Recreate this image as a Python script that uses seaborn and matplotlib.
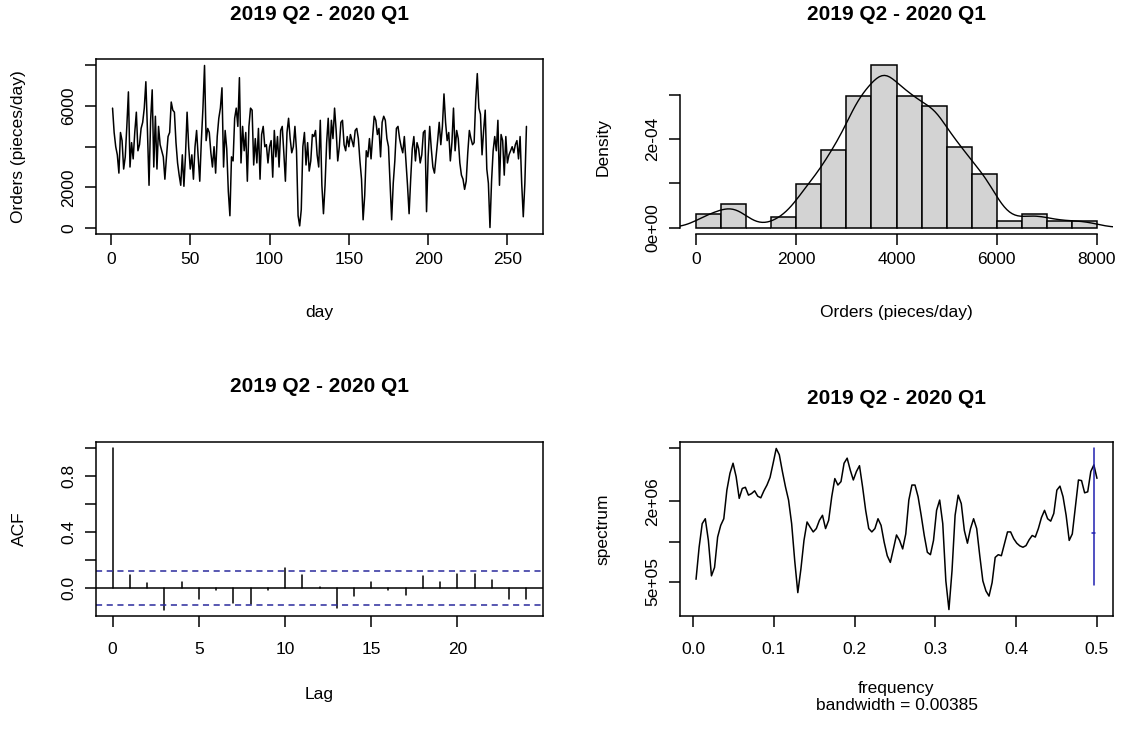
import numpy as np
import pandas as pd
import matplotlib
matplotlib.use("Agg")
import matplotlib.pyplot as plt
from matplotlib.ticker import NullLocator
import seaborn as sns

# ---------------- data ----------------
title = "2019 Q2 - 2020 Q1"

orders = [
    5900, 4700, 4000, 3600, 2700, 4700, 4300, 2900, 3500, 5000,
    6700, 3000, 4200, 3400, 4700, 5700, 3800, 4100, 4900, 5200,
    5900, 7200, 4800, 2100, 5300, 6800, 3000, 5500, 2900, 5000,
    4100, 3800, 3500, 2400, 3500, 4500, 4700, 6200, 5800, 5700,
    4200, 3200, 2600, 2100, 3600, 2050, 3600, 5700, 4000, 2900,
    3600, 2400, 4000, 4800, 3500, 2300, 4300, 5900, 8000, 4300,
    4900, 4700, 3700, 3000, 4000, 2700, 4500, 5400, 5900, 6900,
    3000, 4800, 3900, 1800, 600, 3500, 3300, 5400, 5900, 5000,
    7400, 3200, 5000, 3800, 4700, 2300, 5000, 5900, 5800, 3100,
    4400, 3200, 4900, 2400, 4600, 5000, 4000, 4100, 3200, 4000,
    4300, 2500, 4800, 3500, 4500, 3000, 4800, 5000, 3700, 2300,
    4700, 5400, 4400, 3700, 4000, 5000, 3800, 600, 100, 900,
    4000, 4700, 3100, 4200, 2800, 3300, 4600, 4500, 4800, 3600,
    3000, 5300, 2100, 700, 2100, 4200, 5400, 3400, 5300, 4400,
    5900, 4800, 3300, 4000, 5200, 5300, 4100, 3800, 4500, 4000,
    4600, 4300, 4000, 4800, 4900, 4400, 3300, 2400, 400, 1600,
    3800, 3500, 4400, 3400, 4500, 5500, 5300, 4600, 4900, 3500,
    5200, 5500, 5300, 4400, 4000, 2200, 400, 2200, 3300, 4900,
    5000, 4400, 4000, 3700, 4500, 3300, 2100, 700, 2400, 3900,
    4500, 3300, 4200, 3900, 3200, 3600, 4700, 4800, 800, 3500,
    5000, 3900, 3000, 2700, 3500, 4300, 5200, 4100, 5000, 6600,
    5200, 4300, 4700, 3300, 4200, 5900, 3800, 4800, 4400, 3200,
    2600, 2400, 1900, 2300, 3700, 4800, 4400, 4100, 4200, 6300,
    7600, 5900, 5600, 3600, 4800, 5800, 2900, 2200, 20, 2300,
    3800, 4500, 3800, 5300, 2100, 4600, 4300, 2600, 4500, 3200,
    3600, 3800, 4000, 3700, 4100, 4300, 3400, 4500, 2200, 550,
    2200, 5000,
]
days = list(range(1, len(orders) + 1))

hist_breaks = list(range(0, 8001, 500))
hist_counts = [4, 7, 0, 3, 13, 23, 39, 48, 39, 36, 24, 16, 2, 4, 2, 2]

acf_lags = list(range(0, 25))
acf_vals = [1.0, 0.095, 0.033, -0.155, 0.045, -0.079, -0.014, -0.107, -0.117,
            -0.017, 0.146, 0.095, 0.005, -0.146, -0.057, 0.045, -0.014, -0.048,
            0.088, 0.045, 0.100, 0.100, 0.055, -0.079, -0.079]
acf_ci = 0.121

spec_freq = [k / 262 for k in range(1, 132)]
spec_vals = [
    5.23e5, 9.07e5, 1.36e6, 1.48e6, 1.02e6, 5.55e5, 6.41e5, 1.08e6, 1.32e6, 1.48e6,
    2.42e6, 3.23e6, 3.84e6, 3.05e6, 2.10e6, 2.49e6, 2.54e6, 2.22e6, 2.28e6, 2.39e6,
    2.18e6, 2.12e6, 2.39e6, 2.64e6, 3.01e6, 3.84e6, 4.95e6, 4.44e6, 3.33e6, 2.56e6,
    2.04e6, 1.36e6, 7.19e5, 4.16e5, 6.23e5, 1.02e6, 1.40e6, 1.28e6, 1.18e6, 1.25e6,
    1.44e6, 1.57e6, 1.25e6, 1.44e6, 2.16e6, 2.95e6, 2.64e6, 2.80e6, 3.84e6, 4.19e6,
    3.42e6, 2.88e6, 3.33e6, 3.68e6, 2.56e6, 1.71e6, 1.25e6, 1.18e6, 1.25e6, 1.48e6,
    1.32e6, 9.89e5, 7.84e5, 6.99e5, 8.81e5, 1.12e6, 1.02e6, 8.81e5, 1.14e6, 2.04e6,
    2.64e6, 2.64e6, 2.16e6, 1.57e6, 1.11e6, 8.32e5, 7.98e5, 1.02e6, 1.71e6, 2.04e6,
    1.36e6, 5.09e5, 3.11e5, 6.05e5, 1.57e6, 2.22e6, 1.92e6, 1.21e6, 9.72e5, 1.25e6,
    1.48e6, 1.25e6, 7.84e5, 5.09e5, 4.28e5, 3.92e5, 4.94e5, 7.62e5, 7.98e5, 7.84e5,
    9.60e5, 1.18e6, 1.18e6, 1.05e6, 9.72e5, 9.28e5, 9.07e5, 9.33e5, 1.03e6, 1.11e6,
    1.08e6, 1.25e6, 1.51e6, 1.71e6, 1.48e6, 1.42e6, 1.62e6, 2.42e6, 2.59e6, 2.16e6,
    1.57e6, 1.02e6, 1.14e6, 1.81e6, 2.88e6, 2.85e6, 2.31e6, 2.35e6, 3.33e6, 3.73e6,
    2.96e6,
]
spec_ci = [4.74e5, 1.16e6, 4.95e6]   # lower, centre, upper of the blue bar
bandwidth = 0.00385

# ---------------- style ----------------
sns.set_style("ticks")
plt.rcParams['font.family'] = ['Liberation Sans', 'DejaVu Sans']
plt.rcParams['axes.linewidth'] = 1.1

W, H = 1137, 733
fig = plt.figure(figsize=(W / 100, H / 100), dpi=100, facecolor='white')

TICK_FS = 12.5
LAB_FS = 12.5
TITLE_FS = 15
LW = 1.1

def add_ax(l, t, r, b):
    return fig.add_axes([l / W, 1 - b / H, (r - l) / W, (b - t) / H])

def rlim(lo, hi):
    d = (hi - lo) * 0.04
    return lo - d, hi + d

def ftext(x, y, s, **kw):
    fig.text(x / W, 1 - y / H, s, ha='center', va='center', color='black', **kw)

def style(ax, xpad=6):
    for s in ax.spines.values():
        s.set_linewidth(LW)
        s.set_color('black')
    ax.tick_params(axis='both', length=8, width=LW, color='black',
                   labelsize=TICK_FS, pad=6, labelcolor='black')
    ax.tick_params(axis='x', pad=xpad)
    ax.tick_params(axis='y', labelrotation=90)
    for lab in ax.get_yticklabels():
        lab.set_va('center')
    ax.set_xlabel('')
    ax.set_ylabel('')

L1, R1 = 96, 543
L2, R2 = 680, 1113
T1, B1 = 59, 234
T2, B2 = 442, 616

# ---------------- panel 1: time series ----------------
ax1 = add_ax(L1, T1, R1, B1)
sns.lineplot(x=days, y=orders, ax=ax1, color='black', linewidth=LW)
ax1.set_xlim(*rlim(min(days), max(days)))
ax1.set_ylim(*rlim(min(orders), max(orders)))
ax1.set_xticks([0, 50, 100, 150, 200, 250])
ax1.set_xticklabels(['0', '50', '100', '150', '200', '250'])
ax1.set_yticks([0, 2000, 4000, 6000, 8000])
ax1.set_yticklabels(['0', '2000', '', '6000', ''])
style(ax1, xpad=5)
ftext((L1 + R1) / 2, 14, title, fontsize=TITLE_FS, fontweight='bold')
ftext((L1 + R1) / 2, 313, 'day', fontsize=LAB_FS)
ftext(L1 - 77, (T1 + B1) / 2, 'Orders (pieces/day)', fontsize=LAB_FS, rotation=90)

# ---------------- panel 2: histogram + density ----------------
ax2 = add_ax(L2, T1, R2, B1)
centers = [(a + b) / 2 for a, b in zip(hist_breaks[:-1], hist_breaks[1:])]
binw = hist_breaks[1] - hist_breaks[0]
sns.histplot(x=centers, weights=hist_counts, bins=hist_breaks, stat='density',
             color='#d3d3d3', edgecolor='black', linewidth=LW, alpha=1, ax=ax2)
# R's default (nrd0) bandwidth, estimated from the series
o = np.asarray(orders, dtype=float)
sd = o.std(ddof=1)
q75, q25 = np.percentile(o, [75, 25])
bw_r = 0.9 * min(sd, (q75 - q25) / 1.34) * len(o) ** -0.2
# density of the binned counts, bandwidth corrected for the bin width
h = np.sqrt(max(bw_r ** 2 - binw ** 2 / 12.0, 1.0))
sd_w = np.sqrt(np.cov(centers, aweights=hist_counts))
sns.kdeplot(x=centers, weights=hist_counts, bw_method=h / sd_w, cut=3,
            color='black', linewidth=1.0, ax=ax2)
max_dens = max(hist_counts) / (sum(hist_counts) * binw)
ax2.set_xlim(*rlim(hist_breaks[0], hist_breaks[-1]))
ax2.set_ylim(*rlim(0, max_dens))
ax2.set_xticks([0, 2000, 4000, 6000, 8000])
ax2.set_xticklabels(['0', '2000', '4000', '6000', '8000'])
ax2.set_yticks([0, 1e-4, 2e-4, 3e-4])
ax2.set_yticklabels(['0e+00', '', '2e-04', ''])
style(ax2, xpad=5)
ax2.spines['top'].set_visible(False)
ax2.spines['right'].set_visible(False)
ax2.spines['left'].set_bounds(0, 3e-4)
ax2.spines['bottom'].set_bounds(0, 8000)
ftext((L2 + R2) / 2, 14, title, fontsize=TITLE_FS, fontweight='bold')
ftext((L2 + R2) / 2, 313, 'Orders (pieces/day)', fontsize=LAB_FS)
ftext(L2 - 77, (T1 + B1) / 2, 'Density', fontsize=LAB_FS, rotation=90)

# ---------------- panel 3: ACF ----------------
ax3 = add_ax(L1, T2, R1, B2)
df_acf = pd.DataFrame({'lag': np.repeat(acf_lags, 2),
                       'acf': np.ravel([[0.0, v] for v in acf_vals])})
sns.lineplot(data=df_acf, x='lag', y='acf', units='lag', estimator=None,
             color='black', linewidth=LW, ax=ax3)
ax3.axhline(0, color='black', linewidth=LW)
for c in (acf_ci, -acf_ci):
    ax3.axhline(c, color='#2a2a9c', linewidth=LW, linestyle=(0, (4, 3)))
ax3.set_xlim(*rlim(min(acf_lags), max(acf_lags)))
ax3.set_ylim(*rlim(min(min(acf_vals), -acf_ci), max(max(acf_vals), acf_ci)))
ax3.set_xticks([0, 5, 10, 15, 20])
ax3.set_xticklabels(['0', '5', '10', '15', '20'])
ax3.set_yticks([0, 0.2, 0.4, 0.6, 0.8, 1.0])
ax3.set_yticklabels(['0.0', '', '0.4', '', '0.8', ''])
style(ax3, xpad=11)
ftext((L1 + R1) / 2, 386, title, fontsize=TITLE_FS, fontweight='bold')
ftext((L1 + R1) / 2, 694, 'Lag', fontsize=LAB_FS)
ftext(L1 - 77, (T2 + B2) / 2, 'ACF', fontsize=LAB_FS, rotation=90)

# ---------------- panel 4: spectrum ----------------
ax4 = add_ax(L2, T2, R2, B2)
sns.lineplot(x=spec_freq, y=spec_vals, color='black', linewidth=LW, ax=ax4)
cx = max(spec_freq) - bandwidth
ci_v = pd.DataFrame({'f': [cx, cx], 's': [spec_ci[0], spec_ci[2]]})
ci_h = pd.DataFrame({'f': [cx - bandwidth / 2, cx + bandwidth / 2],
                     's': [spec_ci[1], spec_ci[1]]})
sns.lineplot(data=ci_v, x='f', y='s', estimator=None, color='#2020b0', linewidth=LW, ax=ax4)
sns.lineplot(data=ci_h, x='f', y='s', estimator=None, color='#2020b0', linewidth=LW, ax=ax4)
ax4.set_yscale('log')
ax4.set_xlim(*rlim(min(spec_freq), max(spec_freq)))
llo, lhi = rlim(np.log10(min(spec_vals)), np.log10(max(spec_vals)))
ax4.set_ylim(10 ** llo, 10 ** lhi)
ax4.set_xticks([0, 0.1, 0.2, 0.3, 0.4, 0.5])
ax4.set_xticklabels(['0.0', '0.1', '0.2', '0.3', '0.4', '0.5'])
ax4.set_yticks([5e5, 1e6, 2e6, 5e6])
ax4.set_yticklabels(['5e+05', '', '2e+06', ''])
ax4.yaxis.set_minor_locator(NullLocator())
style(ax4, xpad=11)
ftext((L2 + R2) / 2, 398, title, fontsize=TITLE_FS, fontweight='bold')
ftext((L2 + R2) / 2, 689, 'frequency', fontsize=LAB_FS)
ftext((L2 + R2) / 2, 706, 'bandwidth = 0.00385', fontsize=LAB_FS)
ftext(L2 - 77, (T2 + B2) / 2, 'spectrum', fontsize=LAB_FS, rotation=90)

fig.savefig('out.png', dpi=100, facecolor='white')
